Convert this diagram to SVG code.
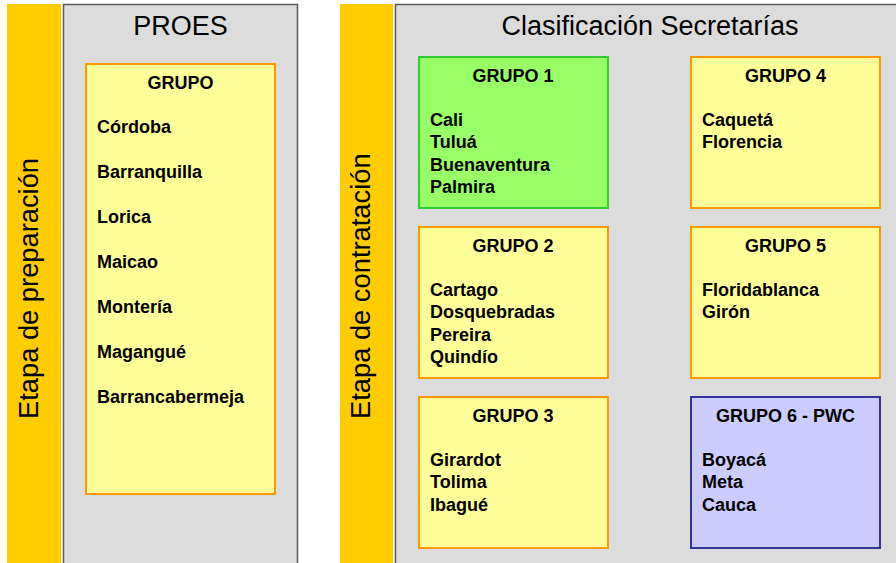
<svg xmlns="http://www.w3.org/2000/svg" width="896" height="563" viewBox="0 0 896 563">
<style>
.bar{fill:#FFCC00;}
.panel{fill:#DCDCDC;stroke:#5a5a5a;stroke-width:1.5;}
.title{font-family:"Liberation Sans",Arial,sans-serif;font-size:27px;fill:#000;}
.vt{font-family:"Liberation Sans",Arial,sans-serif;font-size:27.3px;fill:#000;}
.box{stroke-width:2;}
.y{fill:#FFFF99;stroke:#FF9900;}
.g{fill:#99FF66;stroke:#33CC33;}
.b{fill:#CCCCFF;stroke:#333399;}
.hd{font-family:"Liberation Sans",Arial,sans-serif;font-size:18px;font-weight:bold;fill:#000;text-anchor:middle;}
.it{font-family:"Liberation Sans",Arial,sans-serif;font-size:18px;font-weight:bold;fill:#000;}
</style>
<rect width="896" height="563" fill="#FFFFFF"/>
<g id="stage-left">
<rect class="bar" x="7" y="4" width="54" height="560"/>
<text class="vt" transform="translate(38,419) rotate(-90)">Etapa de preparación</text>
</g>
<g id="proes-panel">
<rect class="panel" x="63.5" y="4.5" width="234" height="570"/>
<text class="title" x="180.5" y="35" text-anchor="middle">PROES</text>
</g>
<g id="proes-grupo">
<rect class="box y" x="86" y="64" width="189" height="430"/>
<text class="hd" x="180.5" y="88.5">GRUPO</text>
<text class="it" x="97" y="132.5">Córdoba</text>
<text class="it" x="97" y="177.5">Barranquilla</text>
<text class="it" x="97" y="222.5">Lorica</text>
<text class="it" x="97" y="267.5">Maicao</text>
<text class="it" x="97" y="312.5">Montería</text>
<text class="it" x="97" y="357.5">Magangué</text>
<text class="it" x="97" y="402.5">Barrancabermeja</text>
</g>
<g id="stage-right">
<rect class="bar" x="340" y="4" width="53" height="560"/>
<text class="vt" transform="translate(369.5,419) rotate(-90)">Etapa de contratación</text>
</g>
<g id="secretarias-panel">
<rect class="panel" x="395.5" y="4.5" width="520" height="570"/>
<text class="title" x="650" y="35" text-anchor="middle">Clasificación Secretarías</text>
</g>
<g id="grupo1">
<rect class="box g" x="419" y="57" width="189" height="151"/>
<text class="hd" x="513" y="81.5">GRUPO 1</text>
<text class="it" x="430" y="125.5">Cali</text>
<text class="it" x="430" y="148">Tuluá</text>
<text class="it" x="430" y="170.5">Buenaventura</text>
<text class="it" x="430" y="193">Palmira</text>
</g>
<g id="grupo2">
<rect class="box y" x="419" y="227" width="189" height="151"/>
<text class="hd" x="513" y="251.5">GRUPO 2</text>
<text class="it" x="430" y="295.5">Cartago</text>
<text class="it" x="430" y="318">Dosquebradas</text>
<text class="it" x="430" y="340.5">Pereira</text>
<text class="it" x="430" y="363">Quindío</text>
</g>
<g id="grupo3">
<rect class="box y" x="419" y="397" width="189" height="151"/>
<text class="hd" x="513" y="421.5">GRUPO 3</text>
<text class="it" x="430" y="465.5">Girardot</text>
<text class="it" x="430" y="488">Tolima</text>
<text class="it" x="430" y="510.5">Ibagué</text>
</g>
<g id="grupo4">
<rect class="box y" x="691" y="57" width="189" height="151"/>
<text class="hd" x="785.5" y="81.5">GRUPO 4</text>
<text class="it" x="702" y="125.5">Caquetá</text>
<text class="it" x="702" y="148">Florencia</text>
</g>
<g id="grupo5">
<rect class="box y" x="691" y="227" width="189" height="151"/>
<text class="hd" x="785.5" y="251.5">GRUPO 5</text>
<text class="it" x="702" y="295.5">Floridablanca</text>
<text class="it" x="702" y="318">Girón</text>
</g>
<g id="grupo6">
<rect class="box b" x="691" y="397" width="189" height="151"/>
<text class="hd" x="785.5" y="421.5">GRUPO 6 - PWC</text>
<text class="it" x="702" y="465.5">Boyacá</text>
<text class="it" x="702" y="488">Meta</text>
<text class="it" x="702" y="510.5">Cauca</text>
</g>
<g id="connectors"></g>
</svg>
